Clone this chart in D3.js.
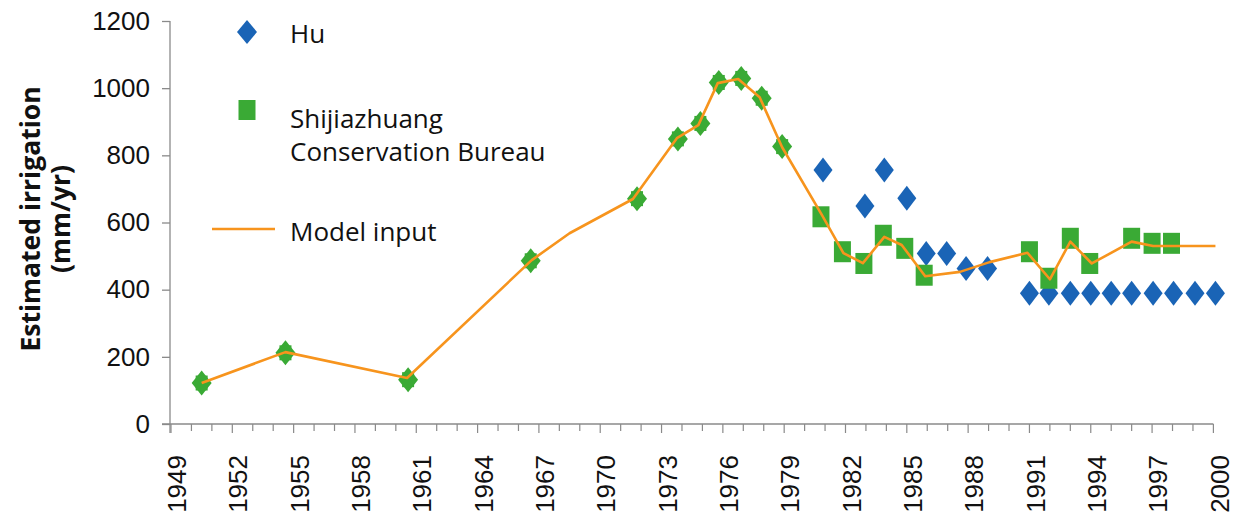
<!DOCTYPE html>
<html>
<head>
<meta charset="utf-8">
<script src="https://cdn.jsdelivr.net/npm/d3@7"></script>
<style>
  html, body { margin: 0; padding: 0; background: #fff; }
  svg { display: block; }
</style>
</head>
<body>
<svg id="chart" width="1239" height="521"></svg>
<script>
// ---------------- data ----------------
// Years where both sources coincide (drawn green, diamond + square)
const sharedYears  = [1950.5, 1954.6, 1960.6, 1966.6, 1971.8, 1973.8, 1974.9, 1975.8, 1976.9, 1977.9, 1978.9];
const sharedValues = [122, 212, 132, 486, 671, 849, 895, 1017, 1029, 970, 826];

// Hu
const huYears  = [1980.9, 1982.95, 1983.9, 1985.0, 1985.95, 1986.95, 1987.9, 1988.95,
                  1991.0, 1991.95, 1993.0, 1994.0, 1995.0, 1996.0, 1997.05, 1998.05, 1999.1, 2000.1];
const huValues = [756, 649, 756, 672, 508, 508, 463, 463,
                  389, 389, 389, 389, 389, 389, 389, 389, 389, 389];

// Shijiazhuang Conservation Bureau
const sjzYears  = [1980.8, 1981.85, 1982.9, 1983.85, 1984.9, 1985.85, 1991.0, 1991.95, 1993.0, 1993.95, 1996.0, 1997.0, 1997.95];
const sjzValues = [617, 513, 478, 562, 523, 443, 513, 434, 553, 478, 553, 538, 538];

// Model input
const modelYears  = [1950.5, 1954.6, 1960.55, 1966.65, 1968.5, 1971.6, 1973.75, 1974.8, 1975.75, 1976.75,
                     1977.8, 1978.9, 1980.85, 1981.9, 1982.85, 1983.9, 1984.75, 1985.9, 1987.6, 1989.05,
                     1990.9, 1992.0, 1993.0, 1994.05, 1996.0, 1997.05, 1998.0, 2000.1];
const modelValues = [122, 214, 137, 488, 568, 670, 851, 890, 1015, 1027,
                     973, 824, 622, 509, 479, 557, 533, 440, 453, 482,
                     510, 431, 543, 478, 543, 530, 530, 530];

// Axes
const yTicks = [0, 200, 400, 600, 800, 1000, 1200];
const xLabelYears = d3.range(1949, 2001, 3);
const xMinorYears = d3.range(1949, 2001, 1);

const yTitle = ["Estimated irrigation", "(mm/yr)"];
const legendLabels = { hu: ["Hu"], sjz: ["Shijiazhuang", "Conservation Bureau"], model: ["Model input"] };

// ---------------- style ----------------
const BLUE = "#1a64b6", GREEN = "#3aaa35", ORANGE = "#f7941d", AXIS = "#8a8a8a";
const TICKFONT = "'Liberation Sans', Arial, sans-serif";
const TEXTFONT = "'Open Sans', 'Noto Sans', sans-serif";

const svg = d3.select("#chart");
const x = d3.scaleLinear().domain([1949, 2000]).range([171, 1213.4]);
const y = d3.scaleLinear().domain([0, 1200]).range([424, 21]);

function diamondPath(cx, cy, w, h) {
  return `M${cx},${cy - h / 2}L${cx + w / 2},${cy}L${cx},${cy + h / 2}L${cx - w / 2},${cy}Z`;
}

// ---------------- y axis ----------------
const yAxis = d3.axisLeft(y).tickValues(yTicks).tickSize(8).tickSizeOuter(0).tickPadding(12).tickFormat(d3.format("d"));
const gy = svg.append("g").attr("transform", "translate(170,0)").call(yAxis);
gy.select(".domain").remove();
gy.selectAll(".tick line").attr("stroke", AXIS).attr("stroke-width", 1.3);
gy.selectAll(".tick text").attr("font-family", TICKFONT).attr("font-size", 26).attr("fill", "#111");
svg.append("line").attr("x1", 170).attr("x2", 170).attr("y1", y(1200)).attr("y2", 433)
  .attr("stroke", AXIS).attr("stroke-width", 1.3);

// ---------------- x axis ----------------
const gx = svg.append("g");
gx.append("line").attr("x1", 162).attr("x2", x(2000)).attr("y1", 424).attr("y2", 424)
  .attr("stroke", AXIS).attr("stroke-width", 1.3);
gx.selectAll("line.minor").data(xMinorYears).join("line").attr("class", "minor")
  .attr("x1", d => x(d)).attr("x2", d => x(d))
  .attr("y1", 424).attr("y2", d => (d - 1949) % 3 === 0 ? 433 : 431)
  .attr("stroke", AXIS).attr("stroke-width", 1.2);
gx.selectAll("text").data(xLabelYears).join("text")
  .attr("transform", d => `translate(${x(d) + 6},455) rotate(-90)`)
  .attr("text-anchor", "end").attr("dy", "0.35em")
  .attr("font-family", TICKFONT).attr("font-size", 26).attr("fill", "#111")
  .text(d => d);

// ---------------- y title ----------------
svg.append("text").attr("transform", "translate(31,219) rotate(-90)")
  .attr("text-anchor", "middle").attr("dy", "0.35em")
  .attr("font-family", TEXTFONT).attr("font-weight", "bold").attr("font-size", 26.5).attr("fill", "#111")
  .text(yTitle[0]);
svg.append("text").attr("transform", "translate(61,219) rotate(-90)")
  .attr("text-anchor", "middle").attr("dy", "0.35em")
  .attr("font-family", TEXTFONT).attr("font-weight", "bold").attr("font-size", 26.5).attr("fill", "#111")
  .text(yTitle[1]);

// ---------------- marks ----------------
const huData = huYears.map((yr, i) => ({ yr, v: huValues[i] }));
const sjzData = sjzYears.map((yr, i) => ({ yr, v: sjzValues[i] }));
const sharedData = sharedYears.map((yr, i) => ({ yr, v: sharedValues[i] }));
const modelData = modelYears.map((yr, i) => ({ yr, v: modelValues[i] }));

svg.append("g").selectAll("path").data(huData).join("path")
  .attr("d", d => diamondPath(x(d.yr), y(d.v), 19, 25)).attr("fill", BLUE);

svg.append("g").selectAll("rect").data(sjzData).join("rect")
  .attr("x", d => x(d.yr) - 8.5).attr("y", d => y(d.v) - 10.5)
  .attr("width", 17).attr("height", 21).attr("fill", GREEN);

const gs = svg.append("g");
gs.selectAll("path").data(sharedData).join("path")
  .attr("d", d => diamondPath(x(d.yr), y(d.v), 20, 25)).attr("fill", GREEN);
gs.selectAll("rect").data(sharedData).join("rect")
  .attr("x", d => x(d.yr) - 6).attr("y", d => y(d.v) - 7.5)
  .attr("width", 12).attr("height", 15).attr("fill", GREEN);

svg.append("path").datum(modelData)
  .attr("d", d3.line().x(d => x(d.yr)).y(d => y(d.v)))
  .attr("fill", "none").attr("stroke", ORANGE).attr("stroke-width", 2.6).attr("stroke-linejoin", "round");

// ---------------- legend ----------------
const lg = svg.append("g");
lg.append("path").attr("d", diamondPath(247, 32, 20, 24)).attr("fill", BLUE);
lg.append("rect").attr("x", 238.5).attr("y", 100).attr("width", 17).attr("height", 20).attr("fill", GREEN);
lg.append("line").attr("x1", 212).attr("x2", 275).attr("y1", 229).attr("y2", 229)
  .attr("stroke", ORANGE).attr("stroke-width", 2.6);
const legText = (t, yy) => lg.append("text").attr("x", 290).attr("y", yy)
  .attr("font-family", TEXTFONT).attr("font-size", 26).attr("fill", "#111").text(t);
legText(legendLabels.hu[0], 43);
legText(legendLabels.sjz[0], 128);
legText(legendLabels.sjz[1], 161);
legText(legendLabels.model[0], 241);
</script>
</body>
</html>
